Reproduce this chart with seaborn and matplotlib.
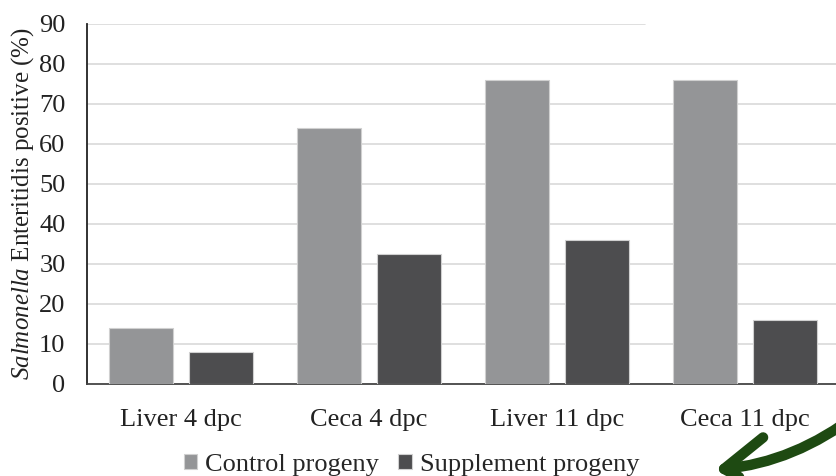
import numpy as np
import pandas as pd
import matplotlib
matplotlib.use("Agg")
import matplotlib.pyplot as plt
import seaborn as sns
from matplotlib.patches import FancyArrowPatch

categories = ["Liver 4 dpc", "Ceca 4 dpc", "Liver 11 dpc", "Ceca 11 dpc"]
groups = ["Control progeny", "Supplement progeny"]
control = [14, 64, 76, 76]
supplement = [8, 32.5, 36, 16]
yticks = [0, 10, 20, 30, 40, 50, 60, 70, 80, 90]

df = pd.DataFrame({
    "tissue": categories * 2,
    "group": [groups[0]] * 4 + [groups[1]] * 4,
    "pct": control + supplement,
})

sns.set_style("white")
plt.rcParams["font.family"] = ["Liberation Serif", "DejaVu Serif"]
plt.rcParams["mathtext.fontset"] = "custom"
plt.rcParams["mathtext.rm"] = "Liberation Serif"
plt.rcParams["mathtext.it"] = "Liberation Serif:italic"

fig = plt.figure(figsize=(8.36, 4.76), dpi=100)
ax = fig.add_axes([87 / 836, 1 - 384 / 476, 752 / 836, 360 / 476])

sns.barplot(data=df, x="tissue", y="pct", hue="group", order=categories,
            hue_order=groups, palette=["#939598", "#4d4d4f"], width=0.85,
            gap=0.2, edgecolor="#d0d0d0", linewidth=0.8, ax=ax, legend=True,
            zorder=3)

# gridlines (top one stops short in the original)
for t in yticks[1:]:
    xmax = (645 - 87) / 752 if t == 90 else 1
    ax.axhline(t, xmin=0, xmax=xmax, color="#d9d9d9", lw=1.2, zorder=0)

ax.set_ylim(0, 90)
ax.set_yticks(yticks)
ax.set_xlim(-0.5, 3.5)
ax.tick_params(axis="both", length=0, labelsize=19, colors="#222222")
ax.tick_params(axis="y", pad=15.5)
ax.tick_params(axis="x", pad=18)
ax.set_xlabel("")
ax.set_ylabel(r"$\it{Salmonella}$ Enteritidis positive (%)", fontsize=18,
              color="#222222", labelpad=2)
for s in ["top", "right"]:
    ax.spines[s].set_visible(False)
ax.spines["left"].set_color("#222222")
ax.spines["bottom"].set_color("#444444")
ax.spines["left"].set_linewidth(1.3)
ax.spines["bottom"].set_linewidth(1.3)

handles, labels = ax.get_legend_handles_labels()
ax.get_legend().remove()
fig.legend(handles, labels, loc="lower center", bbox_to_anchor=(0.492, -0.05),
           ncol=2, frameon=False, fontsize=19, handlelength=0.5,
           handleheight=0.5, handletextpad=0.3, columnspacing=0.75)

# hand-drawn green arrow
arrow = FancyArrowPatch((860 / 836, 1 - 412 / 476), (712 / 836, 1 - 470 / 476),
                        transform=fig.transFigure,
                        connectionstyle="arc3,rad=-0.15",
                        arrowstyle="->,head_length=3,head_width=2",
                        mutation_scale=10,
                        color="#1e4a12", lw=7.5, clip_on=False)
fig.patches.append(arrow)

fig.savefig("out.png", dpi=100)
